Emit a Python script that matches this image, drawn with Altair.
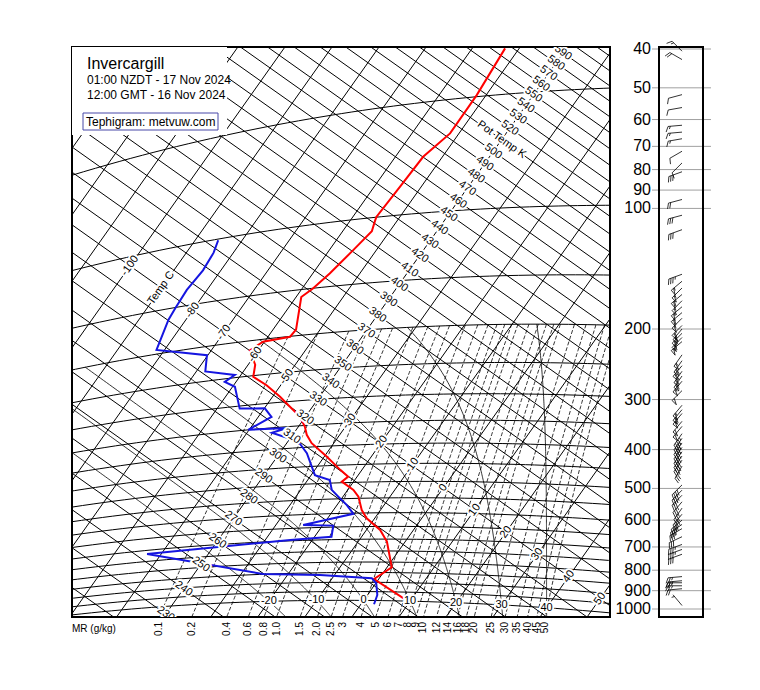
import numpy as np
import pandas as pd
import altair as alt

# ---------------- sounding values ----------------
TEMP_P = [1022, 882.9, 824.3, 710.0, 663.2, 619.4, 589.5, 544.7, 522.7, 496.8, 482.8, 462.9,
          425.9, 390.9, 370.9, 352.9, 330.9, 309.9, 289.9, 267.8, 251.8, 233.7, 212.6, 203.2,
          200.5, 192.5, 157.3, 150.3, 138.2, 121.0, 108.9, 102.9, 99.8, 83.7, 70.5, 61.9, 49.5, 37.6]
TEMP_C = [11.4, -1.0, 1.0, -3.9, -7.1, -11.7, -14.0, -16.7, -18.8, -22.5, -21.9, -24.6, -29.5,
          -34.7, -37.0, -38.6, -41.2, -44.8, -48.4, -53.0, -57.1, -58.5, -61.8, -60.3, -55.3,
          -55.1, -58.9, -57.7, -56.4, -54.9, -53.8, -54.6, -55.0, -54.5, -54.1, -51.9, -52.0, -53.0]
DEW_P = [1022, 968.3, 904.7, 878.9, 861.0, 848.1, 715.9, 696.0, 688.1, 644.3, 638.3, 602.5,
         571.6, 542.7, 520.7, 490.8, 474.8, 414.9, 385.0, 360.9, 352.9, 349.9, 326.9, 308.9,
         304.9, 264.8, 254.8, 245.8, 234.7, 211.6, 194.6, 161.4, 150.3, 135.2, 121.0, 108.9, 100.8]
DEW_C = [2.8, 2.1, 0.1, -1.6, -13.1, -25.4, -53.0, -24.7, -16.4, -17.7, -24.2, -15.2, -17.9,
         -21.0, -23.4, -25.3, -29.2, -34.2, -37.8, -44.7, -42.2, -50.2, -47.2, -49.9, -55.2,
         -59.5, -62.4, -61.3, -68.1, -70.2, -81.7, -83.7, -84.0, -84.3, -83.8, -84.2, -85.1]

# ---------------- winds (approximate) ----------------
WIND_P = [40.5, 42.5, 52, 56, 62, 64.5, 67, 72, 77, 81, 95, 104, 113, 146,
          152, 158, 164, 170, 176, 182, 188, 196, 200, 205, 210, 215,
          232, 240, 247, 255, 262, 270, 285, 310, 318, 325, 340, 350,
          365, 375, 385, 395, 405, 415, 425, 440, 490, 505, 520, 540,
          560, 580, 600, 615, 630, 660, 690, 710, 730, 830, 850, 860, 875, 890, 980]
WIND_DIR = [315, 300, 255, 260, 265, 265, 260, 240, 225, 250, 255, 255, 250, 250,
            230, 225, 230, 225, 230, 230, 225, 225, 220, 225, 225, 230,
            215, 215, 220, 215, 215, 220, 225, 220, 220, 220, 220, 220,
            215, 215, 215, 215, 215, 215, 215, 210, 225, 225, 225, 220,
            215, 220, 230, 235, 240, 245, 250, 250, 250, 265, 265, 270, 270, 265, 320]
WIND_KT = [15, 20, 10, 10, 15, 15, 15, 10, 10, 30, 20, 30, 30, 35,
           55, 55, 60, 55, 55, 60, 55, 60, 60, 65, 60, 55,
           55, 60, 60, 65, 60, 55, 50, 55, 60, 55, 50, 50,
           45, 45, 45, 45, 40, 40, 40, 35, 40, 40, 35, 35,
           35, 40, 40, 35, 35, 30, 35, 35, 30, 25, 25, 25, 25, 20, 5]

# ---------------- grid and label values ----------------
ISOTHERMS = list(range(-170, 71, 10))
ISENTROPES = list(range(190, 661, 10))
ISOBARS = list(range(50, 1001, 50))
MIX_RATIOS = [0.1, 0.2, 0.4, 0.6, 0.8, 1.0, 1.5, 2.0, 2.5, 3, 4, 5, 6, 7, 8, 9, 10, 12, 14, 16,
              18, 20, 25, 30, 35, 40, 45, 50]
MIX_LABELS = ["0.1", "0.2", "0.4", "0.6", "0.8", "1.0", "1.5", "2.0", "2.5", "3", "4", "5", "6",
              "7", "8", "9", "10", "12", "14", "16", "18", "20", "25", "30", "35", "40", "45", "50"]
MOIST_TW = [-20, -10, 0, 10, 20, 30, 40]
T_LABELS = list(range(-100, 51, 10))
TH_LABELS = list(range(230, 591, 10))
PANEL_P = [40, 50, 60, 70, 80, 90, 100, 200, 300, 400, 500, 600, 700, 800, 900, 1000]

TITLE = "Invercargill"
LINE1 = "01:00 NZDT - 17 Nov 2024"
LINE2 = "12:00 GMT - 16 Nov 2024"
CREDIT = "Tephigram: metvuw.com"
FONT = "Liberation Sans"

# ---------------- tephigram projection ----------------
W, H = 538, 570
K_T, K_TH = 3.84, 730.0
KAPPA = 0.288
CA, SA = np.cos(np.deg2rad(35.3)), np.sin(np.deg2rad(35.3))
U0, V0 = 246.0, 352.0   # where T=-40 C meets theta=330 K


def proj(T, th):
    a = K_T * (np.asarray(T, float) + 40.0)
    b = K_TH * np.log(np.asarray(th, float) / 330.0)
    return U0 + CA * a + SA * b, V0 + SA * a - CA * b


def theta(T, p):
    return (np.asarray(T, float) + 273.15) * (1000.0 / np.asarray(p, float)) ** KAPPA


def proj_tp(T, p):
    return proj(T, theta(T, p))


def panel_v(p):
    return 2.0 + 400.6 * np.log10(np.asarray(p, float) / 40.0)


def t_from_w(wg, p):
    w = wg / 1000.0
    e = w * p / (0.622 + w)
    x = np.log(e / 6.112)
    return 243.5 * x / (17.67 - x)


def moist(tw):
    def f(Tc, p):
        TK = Tc + 273.15
        e = 6.112 * np.exp(17.67 * Tc / (Tc + 243.5))
        r = 0.622 * e / (p - e)
        return (287.04 * TK + 2.501e6 * r) / (p * (1005.7 + 2.501e6 ** 2 * r * 0.622 / (287.04 * TK * TK)))

    def integ(p0, p1, n):
        ps = np.linspace(p0, p1, n + 1)
        h = ps[1] - ps[0]
        T = float(tw)
        out = [T]
        for i in range(n):
            p = ps[i]
            k1 = f(T, p)
            k2 = f(T + 0.5 * h * k1, p + 0.5 * h)
            k3 = f(T + 0.5 * h * k2, p + 0.5 * h)
            k4 = f(T + h * k3, p + h)
            T = T + h * (k1 + 2 * k2 + 2 * k3 + k4) / 6.0
            out.append(T)
        return ps, np.array(out)

    pu, tu = integ(1000.0, 200.0, 200)
    pdn, tdn = integ(1000.0, 1100.0, 25)
    return np.concatenate([tdn[::-1], tu[1:]]), np.concatenate([pdn[::-1], pu[1:]])


def rows_for(lines):
    rows = []
    for lid, (us, vs) in enumerate(lines):
        for k, (uu, vv) in enumerate(zip(us, vs)):
            rows.append({"id": lid, "ord": k, "u": float(uu), "v": float(vv)})
    return pd.DataFrame(rows)


# grid lines
iso_t = rows_for([proj([t, t], [150, 720]) for t in ISOTHERMS])
iso_th = rows_for([proj([-190, 90], [th, th]) for th in ISENTROPES])
tgrid = np.arange(-190, 91, 2.0)
iso_p = rows_for([proj_tp(tgrid, np.full_like(tgrid, p)) for p in ISOBARS])
pmr = np.geomspace(200, 1100, 70)
mix = rows_for([proj_tp(t_from_w(w, pmr), pmr) for w in MIX_RATIOS])
moist_lines = []
for tw in MOIST_TW:
    Ts, Ps = moist(tw)
    moist_lines.append(proj_tp(Ts, Ps))
moi = rows_for(moist_lines)

# sounding
tu, tv = proj_tp(TEMP_C, TEMP_P)
temp_df = pd.DataFrame({"u": tu, "v": tv, "ord": range(len(tu)), "id": 0})
du, dv = proj_tp(DEW_C, DEW_P)
dew_df = pd.DataFrame({"u": du, "v": dv, "ord": range(len(du)), "id": 0})

# labels
lab_t = []
for t in T_LABELS:
    if t == -40:
        continue
    u, v = proj(t, 330.0)
    lab_t.append({"u": float(u), "v": float(v), "text": "Temp C" if t == -90 else str(t)})
lab_t = pd.DataFrame(lab_t)
lab_th = []
for th in TH_LABELS:
    u, v = proj(-40.0, th)
    lab_th.append({"u": float(u), "v": float(v), "text": "Pot Temp K" if th == 510 else str(th)})
lab_th = pd.DataFrame(lab_th)
lab_m = []
for tw in MOIST_TW:
    u, v = proj_tp(tw, 1000.0)
    lab_m.append({"u": float(u), "v": float(v), "text": str(tw)})
lab_m = pd.DataFrame(lab_m)
lab_mr = []
pb = np.linspace(900, 1300, 400)
for w, s in zip(MIX_RATIOS, MIX_LABELS):
    uu, vv = proj_tp(t_from_w(w, pb), pb)
    lab_mr.append({"u": float(np.interp(H, vv, uu)), "v": H + 5.0, "text": s})
lab_mr = pd.DataFrame(lab_mr)

# right panel
LAB_U, RULE_U0, RULE_U1, BOX_U0, BOX_U1, STN_U = 579, 580, 639, 587, 631, 610
pan = pd.DataFrame({"p": PANEL_P, "v": panel_v(PANEL_P), "text": [str(p) for p in PANEL_P],
                    "u0": RULE_U0, "u1": RULE_U1, "lu": LAB_U})
panel_box = pd.DataFrame({"u0": [BOX_U0], "u1": [BOX_U1], "v0": [0.0], "v1": [float(H)]})


def barb(p, d, spd):
    x0, y0 = STN_U, float(panel_v(p))
    r = np.deg2rad(d)
    ux, uy = np.sin(r), -np.cos(r)
    nx, ny = uy, -ux
    L, F, G = 14.0, 6.0, 2.3
    polys = [([x0, x0 + L * ux], [y0, y0 + L * uy])]
    s = int(round(spd / 5.0)) * 5
    n50, s = divmod(s, 50)
    n10, s = divmod(s, 10)
    n5 = s // 5
    pos = L
    for _ in range(n50):
        b1 = (x0 + pos * ux, y0 + pos * uy)
        b2 = (x0 + (pos - 3) * ux, y0 + (pos - 3) * uy)
        ap = (b1[0] + F * nx, b1[1] + F * ny)
        polys.append(([b1[0], ap[0], b2[0]], [b1[1], ap[1], b2[1]]))
        pos -= 4.0
    for _ in range(n10):
        b = (x0 + pos * ux, y0 + pos * uy)
        polys.append(([b[0], b[0] + F * (0.9 * nx + 0.4 * ux)], [b[1], b[1] + F * (0.9 * ny + 0.4 * uy)]))
        pos -= G
    if n5:
        if pos == L:
            pos -= G
        b = (x0 + pos * ux, y0 + pos * uy)
        polys.append(([b[0], b[0] + 0.5 * F * (0.9 * nx + 0.4 * ux)], [b[1], b[1] + 0.5 * F * (0.9 * ny + 0.4 * uy)]))
    return polys


barb_polys = []
for p, d, s in zip(WIND_P, WIND_DIR, WIND_KT):
    barb_polys.extend(barb(p, d, s))
barbs = rows_for(barb_polys)

# text block
head = pd.DataFrame({"u": [15, 15, 15], "v": [22, 37, 52], "text": [TITLE, LINE1, LINE2],
                     "size": [16, 12, 12]})
head_bg = pd.DataFrame({"u0": [0], "u1": [155], "v0": [0], "v1": [88]})
credit = pd.DataFrame({"u": [14], "v": [78.5], "text": [CREDIT]})
credit_box = pd.DataFrame({"u0": [11], "u1": [146], "v0": [66], "v1": [83]})
mr_title = pd.DataFrame({"u": [0], "v": [585], "text": ["MR (g/kg)"]})

# ---------------- chart ----------------
xs = alt.Scale(domain=[0, W], nice=False, zero=False)
ys = alt.Scale(domain=[0, H], reverse=True, nice=False, zero=False)
X = alt.X("u:Q", scale=xs, axis=None)
Y = alt.Y("v:Q", scale=ys, axis=None)


def lines(df, color="black", width=1.0, dash=None, clip=True):
    kw = dict(color=color, strokeWidth=width, clip=clip)
    if dash:
        kw["strokeDash"] = dash
    return alt.Chart(df).mark_line(**kw).encode(x=X, y=Y, detail="id:N", order="ord:Q")


def halo_text(df, angle, size=11, align="center", baseline="middle"):
    kw = dict(font=FONT, fontSize=size, align=align, baseline=baseline, angle=angle, clip=True)
    return [
        alt.Chart(df).mark_text(stroke="white", strokeWidth=4, color="white", **kw).encode(x=X, y=Y, text="text:N"),
        alt.Chart(df).mark_text(color="black", **kw).encode(x=X, y=Y, text="text:N"),
    ]


def box(df, **kw):
    return alt.Chart(df).mark_rect(**kw).encode(
        x=alt.X("u0:Q", scale=xs, axis=None), x2="u1:Q", y=alt.Y("v0:Q", scale=ys, axis=None), y2="v1:Q")


layers = [
    lines(mix, width=0.8, dash=[4, 2]),
    lines(moi, width=0.8),
    lines(iso_t, width=1.0),
    lines(iso_th, width=1.0),
    lines(iso_p, width=1.0),
    lines(temp_df, color="#ff0000", width=2.0),
    lines(dew_df, color="#1515e0", width=2.0),
]
layers += halo_text(lab_t, 305.3)
layers += halo_text(lab_th, 35.3)
layers += halo_text(lab_m, 0)

layers += [
    box(head_bg, color="white", opacity=1),
    alt.Chart(head).mark_text(font=FONT, align="left", baseline="alphabetic", color="black").encode(
        x=X, y=Y, text="text:N", size=alt.Size("size:Q", scale=None, legend=None)),
    box(credit_box, filled=False, stroke="#4848a8", strokeWidth=1),
    alt.Chart(credit).mark_text(font=FONT, fontSize=12, align="left", baseline="alphabetic", color="black").encode(
        x=X, y=Y, text="text:N"),
    alt.Chart(mr_title).mark_text(font=FONT, fontSize=10, align="left", baseline="alphabetic", color="black").encode(
        x=X, y=Y, text="text:N"),
    alt.Chart(lab_mr).mark_text(font=FONT, fontSize=10, align="right", baseline="middle", angle=270,
                                color="black").encode(x=X, y=Y, text="text:N"),
    alt.Chart(pan).mark_rule(color="#a0a0a0", strokeWidth=1).encode(
        x=alt.X("u0:Q", scale=xs, axis=None), x2="u1:Q", y=alt.Y("v:Q", scale=ys, axis=None)),
    alt.Chart(pan).mark_text(font=FONT, fontSize=16, align="right", baseline="middle", color="black").encode(
        x=alt.X("lu:Q", scale=xs, axis=None), y=alt.Y("v:Q", scale=ys, axis=None), text="text:N"),
    box(panel_box, filled=False, stroke="black", strokeWidth=2),
    lines(barbs, width=0.8, clip=False),
]

chart = alt.layer(*layers).properties(
    width=W, height=H,
    padding={"left": 64, "top": 39, "right": 130, "bottom": 60},
    autosize=alt.AutoSizeParams(type="none"),
).configure_view(stroke="black", strokeWidth=2)

chart.save("out.html", embed_options={"renderer": "svg", "actions": False})
